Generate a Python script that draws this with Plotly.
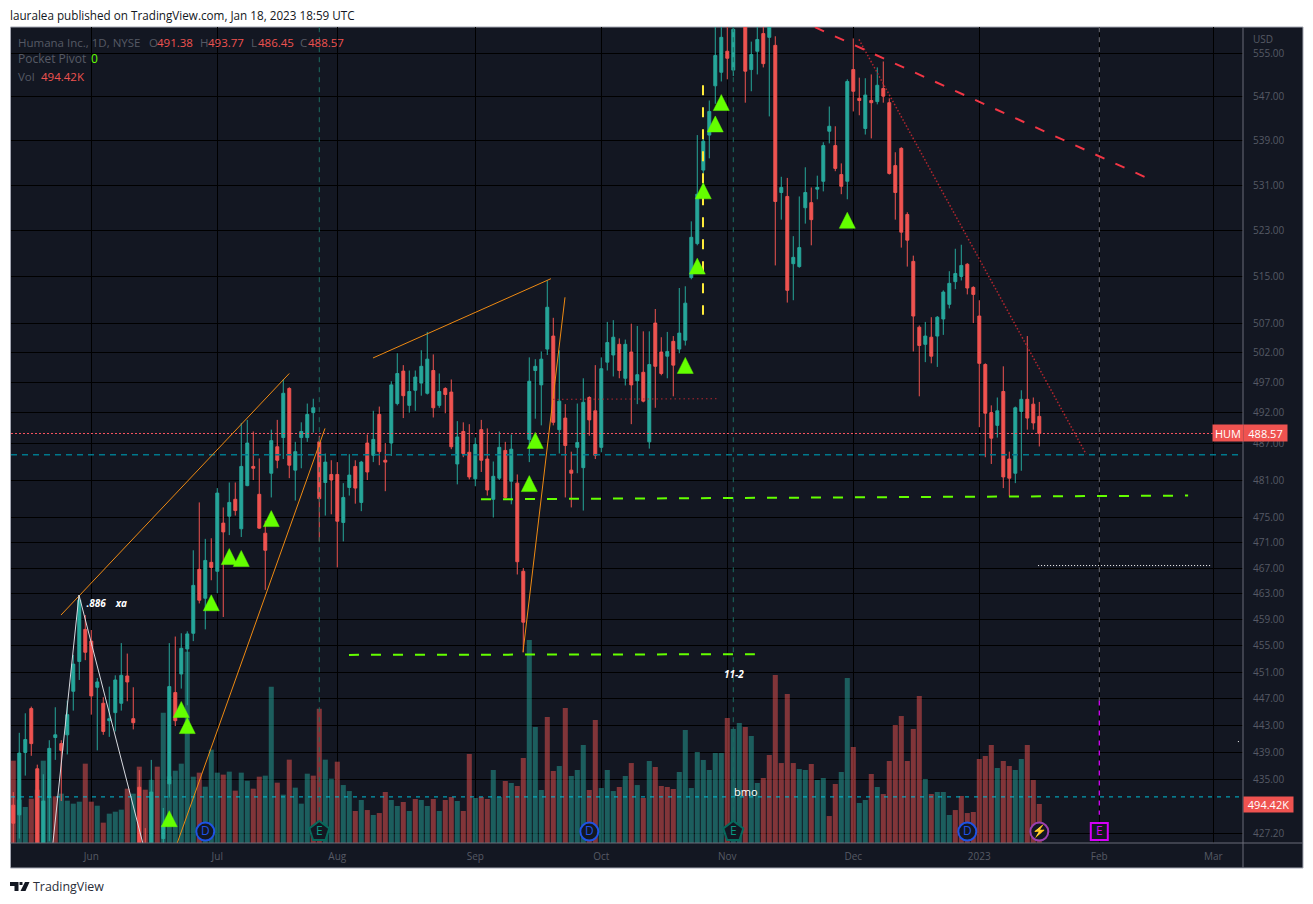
import plotly.graph_objects as go

# bar number, 0 = first session of June 2022
bars = list(range(-13, 159))

opens = [
    431.3, 429.9, 439.0, 445.5, 436.6, 424.0, 432.4, 441.2, 440.3, 441.6,
    448.1, 452.6, 457.5, 455.7, 448.7, 446.3, 443.7, 444.9, 446.3, 450.4,
    444.0, 433.9, 425.4, 424.0, 423.0, 426.5, 434.4, 447.9, 450.7, 454.5,
    456.9, 466.8, 462.3, 467.9, 466.5, 474.1, 475.2, 477.9, 473.2, 480.1,
    483.2, 478.7, 472.5, 482.1, 486.4, 487.9, 496.0, 482.6, 487.9, 487.9,
    492.0, 487.2, 480.6, 481.9, 481.9, 474.2, 479.8, 483.2, 477.4, 487.0,
    485.0, 491.7, 484.2, 487.0, 493.5, 498.9, 493.2, 495.7, 496.9, 495.2,
    499.0, 493.2, 496.0, 495.4, 483.6, 488.9, 485.5, 481.2, 489.2, 484.4,
    477.9, 481.3, 485.8, 480.8, 480.5, 466.5, 487.6, 499.0, 496.6, 502.6,
    504.8, 489.2, 491.1, 482.6, 486.3, 483.0, 494.5, 492.3, 486.3, 500.4,
    501.6, 503.4, 497.7, 502.1, 497.3, 498.7, 487.2, 507.0, 502.1, 501.4,
    503.9, 502.6, 504.1, 514.8, 520.7, 533.7, 540.0, 549.0, 551.5, 555.4,
    551.9, 561.0, 563.0, 552.0, 555.4, 558.7, 558.0, 556.5, 529.7, 529.0,
    517.2, 516.7, 527.0, 527.9, 530.3, 531.7, 540.7, 538.1, 532.9, 531.7,
    552.0, 546.7, 541.2, 546.3, 546.1, 548.5, 545.9, 534.5, 537.6, 525.8,
    517.6, 506.3, 503.4, 504.6, 504.8, 507.7, 510.2, 514.1, 515.0, 517.1,
    513.1, 508.2, 500.0, 492.0, 489.9, 495.5, 484.4, 482.1, 492.2, 494.2,
    493.4, 491.38,
]
highs = [
    433.2, 441.9, 444.8, 445.8, 437.2, 435.8, 440.8, 445.7, 440.8, 446.7,
    453.6, 462.8, 459.7, 457.4, 450.1, 447.2, 448.8, 450.5, 455.4, 453.8,
    448.7, 436.4, 428.0, 437.9, 424.0, 430.9, 455.4, 456.4, 456.9, 457.2,
    469.8, 477.4, 471.6, 471.7, 479.7, 476.6, 480.6, 480.6, 490.3, 490.8,
    488.9, 484.5, 474.5, 489.2, 490.8, 497.5, 496.2, 487.2, 490.4, 493.5,
    494.3, 488.2, 485.3, 484.2, 483.9, 480.5, 485.2, 484.2, 484.1, 488.4,
    492.3, 493.0, 487.0, 497.2, 501.9, 499.9, 499.0, 499.0, 502.4, 505.5,
    501.7, 498.5, 496.2, 497.5, 490.6, 490.4, 490.1, 487.9, 490.8, 489.4,
    484.0, 488.9, 487.2, 488.4, 481.9, 467.0, 501.2, 500.9, 502.2, 514.3,
    507.9, 502.4, 493.4, 485.6, 493.5, 497.7, 494.7, 499.9, 501.2, 507.2,
    507.5, 504.4, 504.2, 506.9, 506.5, 505.6, 505.6, 509.4, 504.6, 505.5,
    504.8, 513.0, 513.3, 524.6, 540.0, 539.4, 546.3, 561.0, 561.0, 561.0,
    561.0, 566.0, 565.0, 557.2, 561.0, 561.0, 563.0, 558.2, 532.5, 532.3,
    522.0, 529.0, 534.2, 530.6, 532.7, 538.7, 545.2, 541.6, 534.9, 550.2,
    557.8, 550.5, 550.4, 551.1, 552.4, 553.5, 546.7, 536.9, 537.8, 526.2,
    518.6, 506.6, 507.2, 508.0, 508.2, 512.6, 515.9, 519.8, 520.5, 517.3,
    513.3, 510.9, 500.2, 493.2, 494.5, 499.7, 485.6, 493.0, 495.7, 504.8,
    494.5, 493.77,
]
lows = [
    423.4, 426.5, 435.6, 438.5, 423.4, 422.7, 426.1, 437.9, 431.9, 438.7,
    445.2, 449.8, 452.8, 444.6, 439.3, 441.6, 441.3, 442.1, 445.2, 446.6,
    442.4, 423.4, 422.0, 423.1, 420.0, 424.8, 432.4, 442.9, 448.5, 446.0,
    455.7, 461.5, 457.5, 465.1, 463.1, 459.4, 472.2, 475.3, 471.9, 480.0,
    481.0, 473.2, 463.6, 478.2, 482.9, 484.4, 481.3, 477.7, 482.9, 487.2,
    488.7, 471.2, 475.3, 475.5, 467.1, 471.2, 478.5, 477.2, 476.0, 481.0,
    483.9, 483.4, 479.2, 484.9, 493.2, 491.1, 492.0, 492.3, 494.8, 495.0,
    491.2, 492.8, 491.9, 486.0, 480.3, 484.7, 481.1, 480.0, 482.3, 478.5,
    475.0, 481.0, 478.0, 477.1, 466.0, 454.0, 483.9, 491.0, 489.9, 501.6,
    489.9, 485.3, 478.2, 476.6, 482.1, 476.1, 488.2, 484.4, 485.5, 499.0,
    498.0, 497.7, 496.5, 490.1, 493.4, 493.7, 486.1, 492.8, 498.2, 497.7,
    494.7, 501.9, 503.2, 514.5, 520.4, 533.1, 535.8, 545.7, 549.8, 550.2,
    550.8, 560.5, 545.9, 548.0, 551.1, 552.4, 543.4, 516.9, 524.9, 510.5,
    510.9, 516.5, 524.2, 520.4, 528.5, 529.9, 538.5, 533.5, 529.4, 528.5,
    544.3, 543.6, 540.1, 539.4, 545.6, 545.9, 532.9, 524.9, 520.0, 516.7,
    502.2, 494.7, 500.4, 500.2, 499.6, 505.0, 509.5, 512.8, 514.3, 511.9,
    507.0, 489.6, 484.7, 483.6, 487.9, 479.7, 478.4, 480.5, 482.5, 489.2,
    489.2, 486.45,
]
closes = [
    428.7, 438.9, 440.9, 440.3, 425.5, 431.9, 439.6, 441.6, 439.3, 444.6,
    452.2, 462.0, 454.0, 447.4, 449.5, 442.1, 444.0, 449.8, 450.5, 449.5,
    443.4, 425.9, 423.7, 433.2, 421.0, 428.4, 448.8, 443.7, 454.6, 456.8,
    464.3, 462.0, 468.2, 467.1, 478.9, 472.7, 477.4, 476.1, 483.2, 487.0,
    482.9, 473.3, 469.8, 487.4, 484.2, 495.2, 483.4, 485.6, 488.9, 491.7,
    492.8, 478.0, 483.9, 481.0, 474.4, 478.2, 481.8, 479.7, 483.9, 482.3,
    487.6, 485.6, 483.9, 496.6, 498.5, 494.8, 495.5, 497.9, 499.7, 500.9,
    492.8, 495.5, 495.0, 486.4, 488.0, 485.3, 481.5, 486.8, 484.2, 479.4,
    481.6, 486.3, 478.2, 486.0, 468.0, 458.6, 497.2, 499.7, 500.9, 509.7,
    490.4, 493.9, 486.6, 482.1, 487.1, 493.7, 490.8, 485.0, 499.3, 503.7,
    504.6, 499.0, 503.4, 496.6, 498.3, 493.9, 500.0, 499.7, 498.5, 502.2,
    499.9, 505.3, 510.4, 521.8, 529.4, 538.9, 544.3, 554.6, 558.0, 554.1,
    559.5, 564.0, 551.7, 554.8, 557.6, 553.1, 561.0, 528.1, 530.6, 512.6,
    518.3, 520.0, 529.7, 524.9, 530.6, 538.1, 541.6, 534.0, 530.8, 549.8,
    548.0, 546.3, 547.3, 545.9, 549.1, 547.1, 533.1, 529.7, 522.7, 521.3,
    508.2, 503.2, 504.8, 501.4, 508.0, 512.3, 513.8, 515.5, 516.9, 513.0,
    511.9, 500.2, 491.9, 487.8, 492.3, 481.5, 481.3, 492.8, 494.2, 491.1,
    490.3, 488.57,
]
# volume in thousands
volumes = [
    1044, 550, 457, 562, 676, 1044, 592, 592, 626, 537,
    499, 524, 1006, 524, 473, 258, 372, 397, 423, 689,
    626, 968, 676, 803, 968, 1653, 845, 917, 1006, 2426,
    841, 892, 714, 1184, 892, 867, 905, 664, 892, 790,
    689, 841, 854, 1982, 765, 613, 1057, 702, 499, 879,
    854, 1703, 1057, 816, 1031, 735, 659, 406, 545, 418,
    355, 380, 647, 545, 469, 520, 406, 558, 545, 469,
    558, 406, 545, 583, 533, 406, 1129, 571, 583, 558,
    926, 583, 786, 761, 723, 1078, 2574, 1471, 672, 1598,
    913, 976, 1712, 850, 926, 1243, 672, 1560, 697, 926,
    659, 710, 850, 1014, 735, 571, 1040, 964, 723, 710,
    685, 900, 1433, 697, 1154, 1053, 926, 1141, 1141, 1585,
    1446, 1522, 1471, 1357, 761, 824, 1116, 2130, 1014, 1889,
    1014, 938, 926, 1002, 799, 824, 342, 748, 900, 2092,
    1217, 507, 545, 875, 710, 621, 1040, 1496, 1610, 1040,
    1446, 1864, 812, 621, 647, 647, 355, 418, 596, 380,
    393, 1065, 1103, 1243, 951, 1040, 976, 926, 1065, 1243,
    799, 494.42,
]
# 1 = up volume, 0 = down volume
volume_up = [
    0, 1, 1, 0, 0, 1, 1, 0, 1, 1,
    1, 1, 0, 0, 1, 0, 1, 1, 1, 0,
    1, 0, 0, 1, 0, 1, 1, 1, 1, 1,
    1, 0, 1, 1, 1, 0, 1, 0, 1, 1,
    0, 0, 1, 1, 0, 1, 0, 1, 1, 1,
    0, 0, 1, 1, 0, 1, 1, 0, 1, 0,
    1, 0, 0, 1, 1, 0, 1, 0, 1, 1,
    0, 1, 0, 0, 1, 0, 0, 1, 0, 0,
    1, 1, 0, 1, 0, 0, 1, 1, 1, 0,
    0, 1, 0, 1, 1, 1, 0, 0, 1, 1,
    1, 0, 1, 0, 1, 0, 1, 0, 0, 0,
    0, 1, 1, 1, 1, 1, 1, 1, 1, 0,
    1, 1, 0, 1, 1, 0, 0, 0, 0, 0,
    0, 1, 1, 0, 1, 1, 0, 0, 1, 1,
    0, 1, 1, 0, 1, 0, 0, 0, 0, 0,
    0, 0, 1, 0, 1, 1, 1, 0, 0, 0,
    0, 0, 0, 0, 1, 0, 0, 1, 1, 0,
    0, 0,
]

month_bars = [0, 21, 41, 64, 85, 106, 127, 148, 168, 187]
month_labels = ['Jun', 'Jul', 'Aug', 'Sep', 'Oct', 'Nov', 'Dec', '2023', 'Feb', 'Mar']
price_ticks = [555, 547, 539, 531, 523, 515, 507, 502, 497, 492, 487, 481, 475, 471,
               467, 463, 459, 455, 451, 447, 443, 439, 435, 427.2]

# pocket pivot triangles
pivot_bars = [13, 15, 16, 20, 23, 25, 30, 73, 74, 99, 101, 102, 104, 105, 126]
pivot_prices = [428.7, 444.7, 442.3, 460.9, 468.1, 467.8, 474.1, 479.7, 486.7, 499.1,
                516.0, 529.2, 541.2, 545.1, 524.0]

# hand drawn lines: name -> bar numbers and prices
orange_a = ([-5.05, 33], [459.7, 498.5])
orange_b = ([14.3, 38.95], [425.8, 489.4])
orange_c = ([46.95, 76.6], [501.1, 514.6])
orange_d = ([71.95, 78.95], [454.0, 511.4])
white_pattern = ([-6.4, -2.05, 8.6], [425.8, 462.8, 425.8])
yellow_drop = ([101.95, 101.95], [549.1, 508.4])
lime_upper = ([64.95, 182.8], [477.9, 478.5])
lime_lower = ([42.95, 110.6], [453.6, 453.7])
teal_level = ([-13.38, 191.95], [485.1, 485.1])
cyan_level = ([-13.38, 191.95], [432.5, 432.5])
last_price = ([-13.38, 191.95], [488.57, 488.57])
red_short = ([76.95, 104.6], [494.2, 494.3])
red_diag = ([127.95, 165.8], [557.6, 485.2])
red_dash = ([120.6, 175.95], [559.9, 532.3])
white_dots = ([157.8, 186.6], [467.4, 467.4])
white_speck = ([191.1, 191.6], [440.6, 440.6])
earn_a = ([38, 38], [559.9, 429.9])
earn_b = ([107, 107], [559.9, 429.9])
earn_c_top = ([168, 168], [559.9, 446.7])
earn_c_low = ([168, 168], [446.7, 429.9])

BG = '#131722'
UP = '#26a69a'
DOWN = '#ef5350'
GREY = '#565a65'
LIME = '#64ff00'
FONT = 'Open Sans'
W, H = 1313, 904
L, R, T, B = 11, 1243, 27, 843


def px(x):
    return (x - L) / (R - L)


def py(y):
    return (B - y) / (B - T)


fig = go.Figure()

fig.add_trace(go.Bar(
    x=bars, y=volumes, yaxis='y',
    marker_color=['rgba(38,166,154,0.5)' if u else 'rgba(239,83,80,0.5)' for u in volume_up],
    marker_line_width=0,
))
fig.add_trace(go.Candlestick(
    x=bars, open=opens, high=highs, low=lows, close=closes, yaxis='y2',
    increasing=dict(line=dict(color=UP, width=1), fillcolor=UP),
    decreasing=dict(line=dict(color=DOWN, width=1), fillcolor=DOWN),
    whiskerwidth=0,
))


def add_line(points, color, width=1, dash='solid'):
    fig.add_trace(go.Scatter(x=points[0], y=points[1], yaxis='y2', mode='lines',
                             line=dict(color=color, width=width, dash=dash)))


add_line(teal_level, '#00788c', 1.3, '6px,5px')
add_line(cyan_level, '#00bcd4', 1, '4px,5px')
add_line(last_price, '#f7525f', 1.2, '2px,2px')
add_line(earn_a, '#1b6b60', 1, '5px,5px')
add_line(earn_b, '#1b6b60', 1, '5px,5px')
add_line(earn_c_top, '#6f7078', 1, '5px,5px')
add_line(earn_c_low, '#d500f9', 1.3, '5px,5px')
for seg in (orange_a, orange_b, orange_c, orange_d):
    add_line(seg, '#ef8a12')
add_line(white_pattern, '#d8dae0')
add_line(yellow_drop, '#ffeb3b', 2, '10px,12px')
add_line(lime_upper, LIME, 2, '10px,12px')
add_line(lime_lower, LIME, 2, '10px,12px')
add_line(red_short, '#b3262e', 1, '1.5px,3px')
add_line(red_diag, '#b3262e', 1.5, '1.5px,2px')
add_line(red_dash, '#f23645', 2, '10px,12px')
add_line(white_dots, '#ffffff', 1, '1px,2px')
add_line(white_speck, '#ffffff', 1, '1px,2px')

# triangles as filled polygons, the plotly symbol is too flat
tri_x, tri_y = [], []
for b, p in zip(pivot_bars, pivot_prices):
    tri_x += [b - 1.33, b + 1.33, b, b - 1.33, None]
    tri_y += [p * 0.99883, p * 0.99883, p * 1.00420, p * 0.99883, None]
fig.add_trace(go.Scatter(x=tri_x, y=tri_y, yaxis='y2', mode='lines', fill='toself',
                         fillcolor=LIME, line=dict(color=LIME, width=0.5)))

# white notes written on the chart
fig.add_trace(go.Scatter(
    x=[0.8, 5, 107.1], y=[461.4, 461.4, 450.5], yaxis='y2', mode='text',
    text=['<b><i>.886</i></b>', '<b><i>xa</i></b>', '<b><i>11-2</i></b>'],
    textfont=dict(family=FONT, size=10, color='#ffffff'),
))
fig.add_trace(go.Scatter(
    x=[109.1], y=[433], yaxis='y2', mode='text', text=['bmo'],
    textfont=dict(family=FONT, size=11, color='#ffffff'),
))


def add_badge(x, symbol, size, line, letter, color):
    fig.add_trace(go.Scatter(
        x=x, y=[427.5] * len(x), yaxis='y2', mode='markers+text', text=[letter] * len(x),
        textposition='middle center',
        marker=dict(symbol=symbol, size=size, color=BG, line=dict(color=line, width=2)),
        textfont=dict(family=FONT, size=12, color=color),
    ))


add_badge([19, 83, 146], 'circle', 18, '#1e53e5', 'D', '#1e53e5')
add_badge([38, 107], 'pentagon', 21, '#07695c', 'E', '#089981')
add_badge([158], 'circle', 18, '#9c3fb0', '⚡', '#ab47bc')
add_badge([168], 'square', 17, '#d500f9', 'E', '#d500f9')


def note(x, y, text, color, size=11.5, xanchor='left', **kw):
    # annotations carry about 2px of inner padding
    fig.add_annotation(x=px(x - 2), y=py(y), xref='paper', yref='paper', text=text,
                       showarrow=False, xanchor=xanchor, yanchor='middle',
                       font=dict(family=FONT, size=size, color=color), **kw)


note(10, 15, 'lauralea published on TradingView.com, Jan 18, 2023 18:59 UTC', '#131722', 11.7)
note(33, 886, 'TradingView', '#2a2e39', 12.4)

note(18, 42, 'Humana Inc., 1D, NYSE', GREY)
for x, head, x2, value in [(149, 'O', 157, '491.38'), (200, 'H', 208, '493.77'),
                           (251, 'L', 258, '486.45'), (300, 'C', 308, '488.57')]:
    note(x, 42, head, GREY)
    note(x2, 42, value, DOWN)
note(18, 59, 'Pocket Pivot', GREY, 12)
note(91, 59, '0', LIME, 12)
note(18, 76, 'Vol', GREY)
note(41, 76, '494.42K', DOWN)
note(1253, 39, 'USD', GREY, 10)

# price labels on the scale
for x0, y0, w, h, label in [(1212, 424, 30, 16, 'HUM'), (1243, 424, 43, 16, '488.57'),
                            (1243, 796, 49, 15, '494.42K')]:
    fig.add_annotation(x=px(x0), y=py(y0), xref='paper', yref='paper', text=label,
                       showarrow=False, xanchor='left', yanchor='top', width=w, height=h,
                       bgcolor=DOWN, borderpad=0, align='center', valign='middle',
                       font=dict(family=FONT, size=11, color='#ffffff'))

# dark panel behind the plot, scale lines and logo
shapes = [
    dict(type='rect', xref='paper', yref='paper', layer='below',
         x0=px(10.5), x1=px(1303), y0=py(868), y1=py(27),
         fillcolor=BG, line=dict(color='#a5a8b3', width=1)),
    dict(type='line', xref='paper', yref='paper', layer='above',
         x0=px(1243), x1=px(1243), y0=py(868), y1=py(27), line=dict(color='#6a6d78', width=1)),
    dict(type='line', xref='paper', yref='paper', layer='above',
         x0=px(10.5), x1=px(1303), y0=py(843), y1=py(843), line=dict(color='#6a6d78', width=1)),
]
logo = [[(10, 882), (18.5, 882), (18.5, 891), (14.5, 891), (14.5, 886), (10, 886)],
        [(25, 882), (29.5, 882), (25.5, 891), (20.5, 891)],
        [(19.5, 882), (22.5, 882), (22.5, 885), (19.5, 885)]]
for poly in logo:
    path = 'M' + ' L'.join(f'{px(a):.5f},{py(b):.5f}' for a, b in poly) + ' Z'
    shapes.append(dict(type='path', xref='paper', yref='paper', path=path,
                       fillcolor='#131722', line_width=0))

fig.update_layout(
    width=W, height=H,
    margin=dict(l=L, r=W - R, t=T, b=H - B, pad=0),
    paper_bgcolor='#ffffff', plot_bgcolor=BG,
    showlegend=False, bargap=0.16,
    font=dict(family=FONT, size=10, color=GREY),
    shapes=shapes,
    xaxis=dict(
        range=[-13.38, 191.95], tickmode='array', tickvals=month_bars, ticktext=month_labels,
        showgrid=True, gridcolor='#000000', gridwidth=1, zeroline=False,
        rangeslider=dict(visible=False), ticks='outside', ticklen=4, tickcolor='rgba(0,0,0,0)',
        tickfont=dict(family=FONT, size=10, color=GREY), showline=False,
    ),
    yaxis=dict(range=[0, 10347], visible=False, showgrid=False, zeroline=False),
    yaxis2=dict(
        type='log', overlaying='y', side='right', anchor='x',
        range=[2.62927, 2.74814], tickmode='array', tickvals=price_ticks,
        ticktext=[f'{v:.2f}' for v in price_ticks],
        showgrid=True, gridcolor='#000000', gridwidth=1, zeroline=False,
        ticks='outside', ticklen=7, tickcolor='rgba(0,0,0,0)',
        tickfont=dict(family=FONT, size=10, color=GREY), showline=False,
    ),
)

fig.write_html("out.html", config={'displayModeBar': False},
               post_script="document.body.style.margin='0';document.body.style.overflow='hidden';")
